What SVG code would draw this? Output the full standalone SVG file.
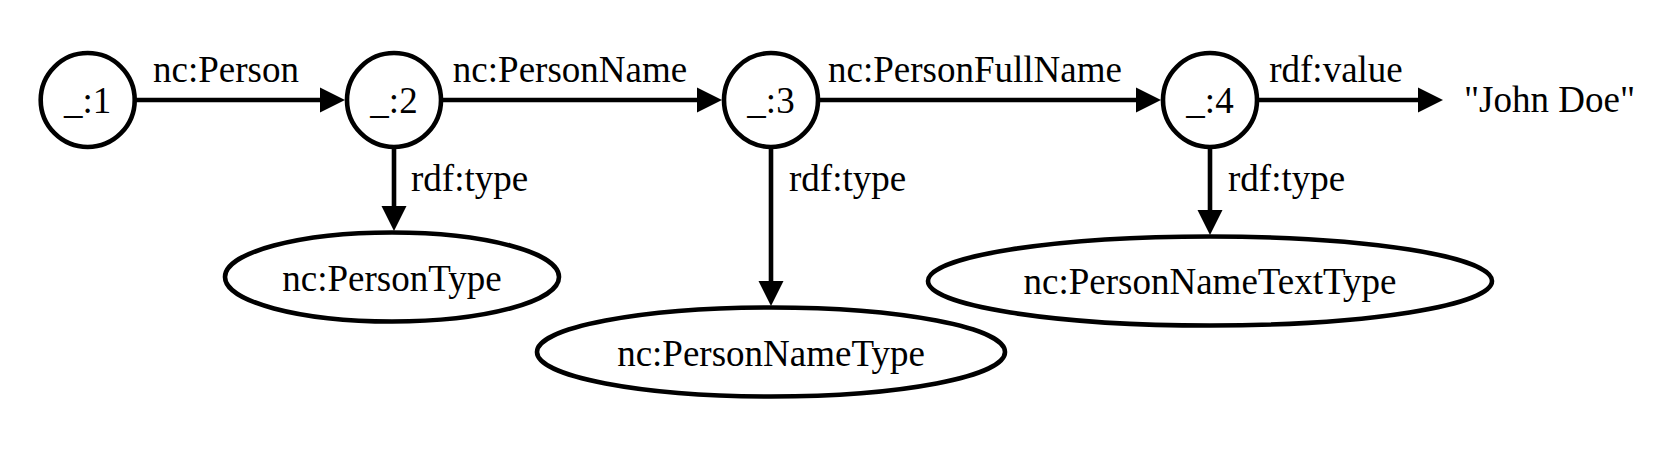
<svg xmlns="http://www.w3.org/2000/svg" width="1663" height="451" viewBox="0 0 1663 451" font-family="'Liberation Serif', 'Times New Roman', Times, serif">
  <style>
    .node { fill: #ffffff; stroke: #000000; stroke-width: 4.6; }
    .edge { fill: none; stroke: #000000; stroke-width: 4.6; }
    text { font-family: 'Liberation Serif', 'Times New Roman', Times, serif; font-size: 37px; fill: #000000; }
    .c { text-anchor: middle; }
  </style>
  <defs>
    <marker id="arrow" markerUnits="userSpaceOnUse" markerWidth="26" markerHeight="26" refX="0" refY="12.5" orient="auto" viewBox="0 0 26 25">
      <path d="M0,0 L25,12.5 L0,25 z" fill="#000000"/>
    </marker>
  </defs>
  <rect x="0" y="0" width="1663" height="451" fill="#ffffff"/>

  <g id="connectors">
    <g id="e1">
      <line class="edge" x1="136" y1="100" x2="320" y2="100" marker-end="url(#arrow)"/>
      <text x="153" y="82">nc:Person</text>
    </g>
    <g id="e2">
      <line class="edge" x1="443" y1="100" x2="697" y2="100" marker-end="url(#arrow)"/>
      <text class="c" x="570" y="82">nc:PersonName</text>
    </g>
    <g id="e3">
      <line class="edge" x1="820" y1="100" x2="1136" y2="100" marker-end="url(#arrow)"/>
      <text class="c" x="975" y="82">nc:PersonFullName</text>
    </g>
    <g id="e4">
      <line class="edge" x1="1258" y1="100" x2="1418" y2="100" marker-end="url(#arrow)"/>
      <text class="c" x="1336" y="82">rdf:value</text>
    </g>
    <g id="e5">
      <line class="edge" x1="394" y1="147" x2="394" y2="206" marker-end="url(#arrow)"/>
      <text x="411" y="191">rdf:type</text>
    </g>
    <g id="e6">
      <line class="edge" x1="771" y1="147" x2="771" y2="281" marker-end="url(#arrow)"/>
      <text x="789" y="191">rdf:type</text>
    </g>
    <g id="e7">
      <line class="edge" x1="1210" y1="147" x2="1210" y2="210" marker-end="url(#arrow)"/>
      <text x="1228" y="191">rdf:type</text>
    </g>
  </g>

  <g id="n1">
    <circle class="node" cx="87.7" cy="100" r="47"/>
    <text class="c" x="87.7" y="113">_:1</text>
  </g>
  <g id="n2">
    <circle class="node" cx="394" cy="100" r="47"/>
    <text class="c" x="394" y="113">_:2</text>
  </g>
  <g id="n3">
    <circle class="node" cx="771" cy="100" r="47"/>
    <text class="c" x="771" y="113">_:3</text>
  </g>
  <g id="n4">
    <circle class="node" cx="1210" cy="100" r="47"/>
    <text class="c" x="1210" y="113">_:4</text>
  </g>
  <g id="n5">
    <text x="1464" y="112">"John Doe"</text>
  </g>
  <g id="n6">
    <ellipse class="node" cx="392" cy="277" rx="167" ry="44.5"/>
    <text class="c" x="392" y="291">nc:PersonType</text>
  </g>
  <g id="n7">
    <ellipse class="node" cx="771" cy="352" rx="234" ry="44.5"/>
    <text class="c" x="771" y="366">nc:PersonNameType</text>
  </g>
  <g id="n8">
    <ellipse class="node" cx="1210" cy="281" rx="282" ry="44.5"/>
    <text class="c" x="1210" y="294">nc:PersonNameTextType</text>
  </g>
</svg>
